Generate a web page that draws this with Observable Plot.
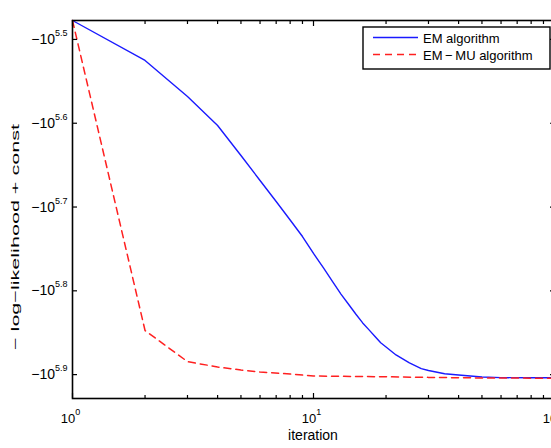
<!DOCTYPE html>
<html><head><meta charset="utf-8">
<script src="https://cdn.jsdelivr.net/npm/d3@7"></script>
<script src="https://cdn.jsdelivr.net/npm/@observablehq/plot@0.6"></script>
<style>
body{margin:0;background:#fff;}
#chart{position:relative;width:551px;height:448px;overflow:hidden;}
</style>
</head><body><div id="chart"></div>
<script>
// iterations and exponent e of the plotted value  -10^e
const emIter = [1,2,3,4,5,6,7,8,9,10,11,12,13,14,15,16,17,18,19,20,22,25,28,30,35,40,50,60,80,100];
const emExp  = [5.4774,5.5251,5.5681,5.6027,5.6385,5.6683,5.6934,5.7155,5.7352,5.7554,
                5.7727,5.7890,5.8039,5.8163,5.8280,5.8383,5.8466,5.8545,5.8619,5.8670,
                5.8765,5.8861,5.8929,5.8951,5.8990,5.9004,5.9029,5.9036,5.9038,5.9038];
const muIter = [1,2,3,4,5,6,8,10,15,20,30,50,100];
const muExp  = [5.4774,5.8474,5.8845,5.8909,5.8945,5.8969,5.8993,5.9017,5.9022,5.9026,5.9033,5.904,5.9043];
const seriesNames = ["EM algorithm","EM\u2009\u2212\u2009MU algorithm"];
const xTicks = [1,10,100];
const xMinor = [2,3,4,5,6,7,8,9,20,30,40,50,60,70,80,90];
const yTicks = [5.5,5.6,5.7,5.8,5.9];

const em = emIter.map((x,i)=>({x, y: emExp[i]}));
const mu = muIter.map((x,i)=>({x, y: muExp[i]}));
const FONT = "'Liberation Sans', Arial, Helvetica, sans-serif";
const blank = () => "";
const BLUE = "#1a1aff", RED = "#ff2020";

const svg = Plot.plot({
  width: 551, height: 448,
  marginLeft: 72, marginTop: 20, marginBottom: 50, marginRight: -3,
  style: {fontFamily: FONT, fontSize: "13px", background: "white", color: "black", overflow: "visible"},
  x: {type: "log", domain: [1, 100]},
  y: {domain: [5.4774, 5.9285], reverse: true},
  marks: [
    Plot.line(em, {x: "x", y: "y", stroke: BLUE, strokeWidth: 1.4}),
    Plot.line(mu, {x: "x", y: "y", stroke: RED, strokeWidth: 1.5, strokeDasharray: "7,5"}),
    Plot.axisX(xTicks, {anchor: "bottom", tickSize: -5, tickFormat: blank, label: null, strokeWidth: 1.2}),
    Plot.axisX(xTicks, {anchor: "top", tickSize: -5, tickFormat: blank, label: null, strokeWidth: 1.2}),
    Plot.axisX(xMinor, {anchor: "bottom", tickSize: -3, tickFormat: blank, label: null, strokeWidth: 1.2}),
    Plot.axisX(xMinor, {anchor: "top", tickSize: -3, tickFormat: blank, label: null, strokeWidth: 1.2}),
    Plot.axisX(xTicks, {anchor: "bottom", tickSize: 0, tickPadding: 15, label: null, dx: -2,
      tickFormat: d => "10^" + Math.round(Math.log10(d))}),
    Plot.axisY(yTicks, {anchor: "left", tickSize: -5, tickFormat: blank, label: null, strokeWidth: 1.2}),
    Plot.axisY(yTicks, {anchor: "right", tickSize: -5, tickFormat: blank, label: null, strokeWidth: 1.2}),
    Plot.axisY(yTicks, {anchor: "left", tickSize: 0, tickPadding: 5, label: null, fontSize: 14,
      tickFormat: d => "\u221210^" + d.toFixed(1)}),
    Plot.frame({stroke: "black", strokeWidth: 1.6})
  ]
});

const s = d3.select(svg);
// superscripts
s.selectAll("text").each(function(){
  const t = this.textContent;
  if (t.includes("^")) {
    const [b, p] = t.split("^");
    this.textContent = "";
    d3.select(this).append("tspan").text(b);
    d3.select(this).append("tspan").attr("dy", -8).attr("font-size", "9px").text(p);
  }
});
// axis titles
s.append("text").attr("x", 313).attr("y", 440).attr("text-anchor", "middle")
  .attr("font-size", 14).attr("fill", "black").text("iteration");
s.append("text").attr("transform", "translate(19,237) rotate(-90)").attr("text-anchor", "middle")
  .attr("font-size", 11.5).attr("fill", "black")
  .attr("textLength", 226).attr("lengthAdjust", "spacingAndGlyphs")
  .text("\u2212 log\u2212likelihood + const");
// legend
const lg = s.append("g").attr("text-anchor", "start");
lg.append("rect").attr("x", 363).attr("y", 27).attr("width", 187).attr("height", 42)
  .attr("fill", "white").attr("stroke", "black").attr("stroke-width", 1.4);
const styles = [{stroke: BLUE, dash: null, w: 1.4}, {stroke: RED, dash: "7,5", w: 1.5}];
seriesNames.forEach((name, i) => {
  const yy = 37.5 + i * 17;
  lg.append("line").attr("x1", 373).attr("x2", 418).attr("y1", yy).attr("y2", yy)
    .attr("stroke", styles[i].stroke).attr("stroke-width", styles[i].w).attr("stroke-dasharray", styles[i].dash);
  lg.append("text").attr("x", 423).attr("y", yy + 5).attr("text-anchor", "start")
    .attr("font-size", 13).attr("fill", "black").text(name);
});
document.getElementById("chart").appendChild(svg);
</script>
</body></html>
